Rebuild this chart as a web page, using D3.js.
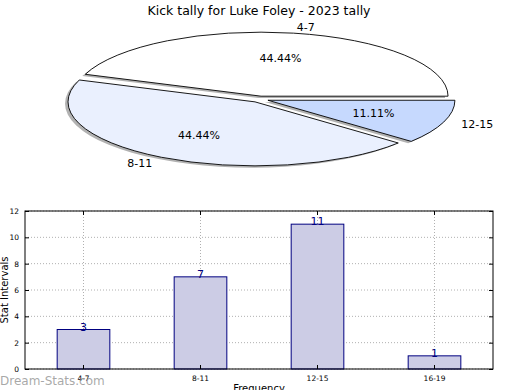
<!DOCTYPE html>
<html><head><meta charset="utf-8">
<script src="https://cdn.jsdelivr.net/npm/d3@7"></script>
<style>body{margin:0;background:#fff}svg{display:block;font-family:"DejaVu Sans",sans-serif}</style>
</head><body><svg id="c" width="520" height="390"></svg>
<script>
const title = "Kick tally for Luke Foley - 2023 tally";
const pieLabels = ["4-7", "8-11", "12-15"];
const pieValues = [4, 4, 1];
const pieColors = ["#ffffff", "#eaf0fe", "#c6d9fe"];
const barCategories = ["4-7", "8-11", "12-15", "16-19"];
const barValues = [3, 7, 11, 1];
const yTicks = [0, 2, 4, 6, 8, 10, 12];
const xLabel = "Frequency";
const yLabel = "Stat Intervals";
const watermark = "Dream-Stats.com";

const svg = d3.select("#c");

// ---- Title
svg.append("text").attr("x", 259).attr("y", 15).attr("text-anchor", "middle")
  .attr("font-size", 12.5).text(title);

// ---- Pie (elliptical, exploded, with shadow)
const cx = 259.5, cy = 99.2, rx = 187, ry = 64, explode = 0.048;
const pie = d3.pie().sort(null).startAngle(0).endAngle(2 * Math.PI);
const arcs = pie(pieValues);
const total = d3.sum(pieValues);
function pt(a, k, ox, oy) { return [cx + ox + k * rx * Math.cos(a), cy + oy - k * ry * Math.sin(a)]; }
function slicePath(d, ox, oy) {
  const c = [cx + ox, cy + oy];
  const p0 = pt(d.startAngle, 1, ox, oy), p1 = pt(d.endAngle, 1, ox, oy);
  const large = (d.endAngle - d.startAngle) > Math.PI ? 1 : 0;
  return `M${c[0]},${c[1]}L${p0[0]},${p0[1]}A${rx},${ry} 0 ${large} 0 ${p1[0]},${p1[1]}Z`;
}
arcs.forEach(d => {
  const m = (d.startAngle + d.endAngle) / 2;
  d.mid = m;
  d.ox = explode * rx * Math.cos(m);
  d.oy = -explode * ry * Math.sin(m);
});
const gp = svg.append("g");
gp.selectAll("path.sh").data(arcs).enter().append("path")
  .attr("d", d => slicePath(d, d.ox - 3, d.oy + 1.8))
  .attr("fill", "#000").attr("fill-opacity", 0.3).attr("stroke", "none");
gp.selectAll("path.sl").data(arcs).enter().append("path")
  .attr("d", d => slicePath(d, d.ox, d.oy))
  .attr("fill", (d, i) => pieColors[i]).attr("stroke", "#000").attr("stroke-width", 0.9);
gp.selectAll("text.lb").data(arcs).enter().append("text")
  .attr("x", d => pt(d.mid, 1.1, d.ox, d.oy)[0])
  .attr("y", d => pt(d.mid, 1.1, d.ox, d.oy)[1])
  .attr("dy", "0.35em")
  .attr("text-anchor", d => Math.cos(d.mid) > 0 ? "start" : "end")
  .attr("font-size", 11).text((d, i) => pieLabels[i]);
gp.selectAll("text.pc").data(arcs).enter().append("text")
  .attr("x", d => pt(d.mid, 0.6, d.ox, d.oy)[0])
  .attr("y", d => pt(d.mid, 0.6, d.ox, d.oy)[1])
  .attr("dy", "0.35em").attr("text-anchor", "middle")
  .attr("font-size", 11).text(d => (d.value / total * 100).toFixed(2) + "%");

// ---- Bar chart
const L = 25, R = 493, T = 211, B = 369;
const x = d3.scaleBand().domain(barCategories).range([L, R]);
const y = d3.scaleLinear().domain([0, 12]).range([B, T]);
const g = svg.append("g");
g.selectAll("line.gy").data(yTicks).enter().append("line")
  .attr("x1", L).attr("x2", R).attr("y1", d => y(d)).attr("y2", d => y(d))
  .attr("stroke", "#b0b0b0").attr("stroke-dasharray", "1,2").attr("stroke-width", 1);
g.selectAll("line.gx").data(barCategories).enter().append("line")
  .attr("y1", T).attr("y2", B).attr("x1", d => x(d) + x.bandwidth() / 2).attr("x2", d => x(d) + x.bandwidth() / 2)
  .attr("stroke", "#b0b0b0").attr("stroke-dasharray", "1,2").attr("stroke-width", 1);
const bw = x.bandwidth() * 0.45;
g.selectAll("rect.bar").data(barValues).enter().append("rect")
  .attr("x", (d, i) => x(barCategories[i]) + x.bandwidth() / 2 - bw / 2)
  .attr("y", d => y(d)).attr("width", bw).attr("height", d => B - y(d))
  .attr("fill", "#ccccE5").attr("stroke", "#000080").attr("stroke-width", 1);
g.selectAll("text.val").data(barValues).enter().append("text")
  .attr("x", (d, i) => x(barCategories[i]) + x.bandwidth() / 2)
  .attr("y", d => y(d) + 1).attr("text-anchor", "middle")
  .attr("font-size", 11).attr("fill", "#000080").text(d => d);
const yAxis = d3.axisLeft(y).tickValues(yTicks).tickSize(-4).tickPadding(6);
const ya = g.append("g").attr("transform", `translate(${L},0)`).call(yAxis);
const yaR = g.append("g").attr("transform", `translate(${R},0)`).call(d3.axisRight(y).tickValues(yTicks).tickSize(-4).tickFormat(""));
const xAxis = d3.axisBottom(x).tickSize(-4).tickPadding(7);
const xa = g.append("g").attr("transform", `translate(0,${B})`).call(xAxis);
const xaT = g.append("g").attr("transform", `translate(0,${T})`).call(d3.axisTop(x).tickSize(-4).tickFormat(""));
[ya, yaR, xa, xaT].forEach(a => {
  a.select(".domain").remove();
  a.selectAll("text").attr("font-size", 7.5).attr("font-family", "DejaVu Sans");
  a.selectAll("line").attr("stroke", "#000");
});
g.append("rect").attr("x", L).attr("y", T).attr("width", R - L).attr("height", B - T)
  .attr("fill", "none").attr("stroke", "#000").attr("stroke-width", 1);
svg.append("text").attr("x", 259).attr("y", 392).attr("text-anchor", "middle").attr("font-size", 10).text(xLabel);
svg.append("text").attr("transform", "translate(8,290) rotate(-90)").attr("text-anchor", "middle")
  .attr("font-size", 10).text(yLabel);
svg.append("text").attr("x", 0).attr("y", 385).attr("font-size", 12)
  .attr("fill", "#999").attr("fill-opacity", 0.85).text(watermark);
</script></body></html>
